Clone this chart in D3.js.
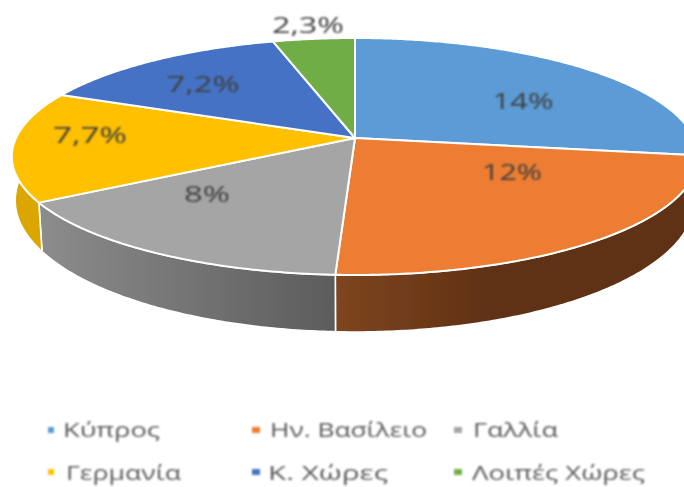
<!DOCTYPE html>
<html><head><meta charset="utf-8">
<script src="https://cdn.jsdelivr.net/npm/d3@7"></script>
<style>html,body{margin:0;padding:0;background:#fff}svg{display:block}</style>
</head><body><div id="c"></div>
<script>
const categories = ["Κύπρος","Ην. Βασίλειο","Γαλλία","Γερμανία","Κ. Χώρες","Λοιπές Χώρες"];
const values = [14,12,8,7.7,7.2,2.3];
const colors = ["#5b9bd5","#ed7d31","#a5a5a5","#ffc000","#4472c4","#70ad47"];
const sideStart = ["#2f5f8f","#7f4520","#8c8c8c","#dba600","#2a4a80","#40702a"];
const sideEnd = ["#2f5f8f","#5e3012","#5c5c5c","#dba600","#2a4a80","#40702a"];
// layout: label centres and widths, legend cells
const labelPos = [[523,101,61],[512,172,60],[207,194,46],[90,135,74],[203,84,73],[308,25,72]];
const legendPos = [[51,430,63,437,97],[256,430,270,437,157],[458,430,473,437,85],
                   [51,472,66,480,115],[256,472,268,480,120],[458,472,472,480,173]];

const W=684,H=487, cx=355, cy=138, A=339, B=115.6, k=0.156;
const svg=d3.select("#c").append("svg").attr("width",W).attr("height",H).attr("font-family","'Open Sans',sans-serif");
const defs=svg.append("defs");
const blur=(id,s)=>defs.append("filter").attr("id",id).attr("x","-5%").attr("y","-5%").attr("width","110%").attr("height","110%")
  .append("feGaussianBlur").attr("stdDeviation",s);
blur("soft",0.6); blur("softer",0.8);

const project=(a)=>{const u=Math.sin(a),v=Math.cos(a),w=1+k*v;return [cx+A*u/w,cy-B*v/w];};
const drop=(p)=>{const d=57-0.111*(275-p[1]);return [cx+(p[0]-cx)*0.99,p[1]+d];};
const arcs=d3.pie().value(d=>d).sort(null)(values);
const samples=(d)=>{const n=Math.ceil((d.endAngle-d.startAngle)/0.01);return d3.range(n+1).map(i=>project(d.startAngle+(d.endAngle-d.startAngle)*i/n));};
const line=d3.line();

const g=svg.append("g").attr("filter","url(#soft)");
// side walls, gradient along x (left to right; the orange wall settles to its dark tone part way)
arcs.forEach((d,i)=>{
  const pts=samples(d);
  const xs=d3.extent(pts,p=>p[0]);
  const x1=i===1?xs[0]+(xs[1]-xs[0])*0.45:xs[1];
  const from=i===2?sideStart[i]:i===1?sideStart[i]:sideEnd[i];
  const gr=defs.append("linearGradient").attr("id","side"+i).attr("gradientUnits","userSpaceOnUse")
    .attr("x1",xs[0]).attr("x2",x1).attr("y1",0).attr("y2",0);
  gr.append("stop").attr("offset",0).attr("stop-color",from);
  gr.append("stop").attr("offset",1).attr("stop-color",sideEnd[i]);
  const wall=pts.concat(pts.slice().reverse().map(drop));
  g.append("path").attr("d",line(wall)+"Z").attr("fill",`url(#side${i})`)
    .attr("stroke","#fff").attr("stroke-width",1.6).attr("stroke-linejoin","round");
});
// top faces
g.selectAll("path.top").data(arcs).join("path").attr("class","top")
  .attr("d",d=>line([[cx,cy],...samples(d)])+"Z")
  .attr("fill",(d,i)=>colors[i]).attr("stroke","#fff").attr("stroke-width",2).attr("stroke-linejoin","round");

const t=svg.append("g").attr("filter","url(#softer)");
// data labels
t.selectAll("text.lab").data(values).join("text").attr("class","lab")
  .attr("x",(d,i)=>labelPos[i][0]-labelPos[i][2]/2).attr("y",(d,i)=>labelPos[i][1]+7.5)
  .attr("textLength",(d,i)=>labelPos[i][2]).attr("lengthAdjust","spacingAndGlyphs")
  .attr("font-size",21).attr("fill","#404040")
  .text(d=>String(d).replace(".",",")+"%");
// legend
const lg=t.selectAll("g.leg").data(categories).join("g").attr("class","leg");
lg.append("rect").attr("x",(d,i)=>legendPos[i][0]-(i%3===0?3:4)).attr("y",(d,i)=>legendPos[i][1]-3)
  .attr("width",(d,i)=>i%3===0?6:8).attr("height",6).attr("fill",(d,i)=>colors[i]);
lg.append("text").attr("x",(d,i)=>legendPos[i][2]).attr("y",(d,i)=>legendPos[i][3])
  .attr("textLength",(d,i)=>legendPos[i][4]).attr("lengthAdjust","spacingAndGlyphs")
  .attr("font-size",20).attr("fill","#595959").text(d=>d);
</script></body></html>
